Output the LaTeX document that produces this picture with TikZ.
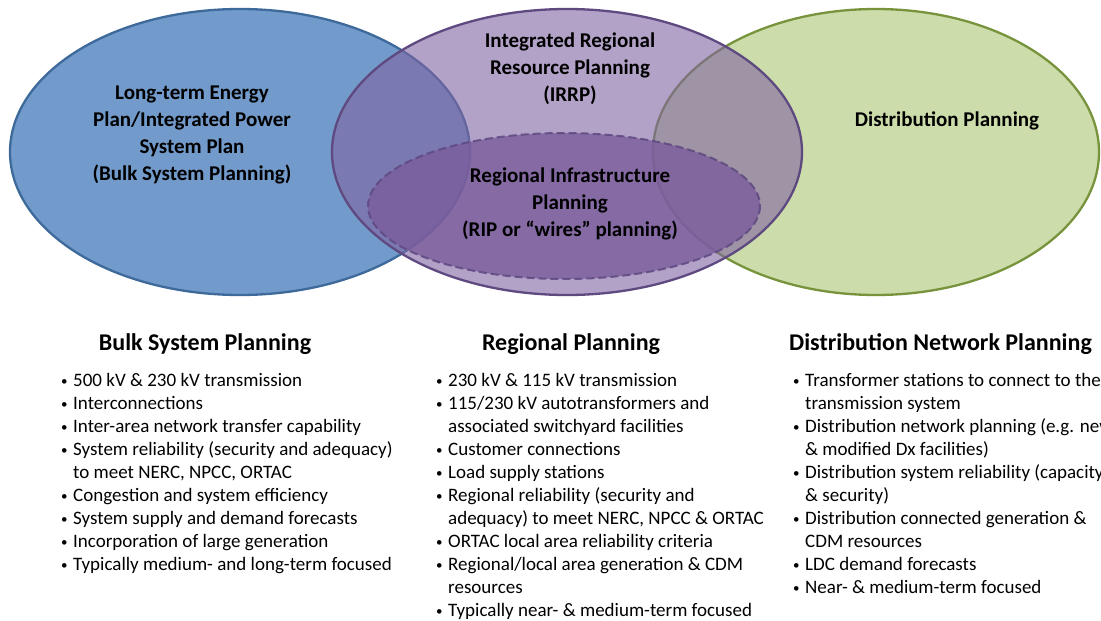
\documentclass[tikz,border=0pt]{standalone}
\usepackage{fontspec}
\setmainfont{Carlito}
\usetikzlibrary{positioning}
\definecolor{bulkblue}{HTML}{4F81BD}
\definecolor{bulkline}{HTML}{3D6A9B}
\definecolor{irrppurple}{HTML}{8064A2}
\definecolor{irrpline}{HTML}{5E4980}
\definecolor{ripfill}{HTML}{7A5C9C}
\definecolor{distgreen}{HTML}{9BBB59}
\definecolor{distline}{HTML}{77933C}
\newcommand{\bul}{\makebox[12pt][l]{\raisebox{0.5pt}{\fontsize{13}{13}\selectfont •}}}
\begin{document}
\begin{tikzpicture}[x=1pt,y=-1pt,
  venn/.style={line width=2.3pt},
  vennlabel/.style={font=\fontsize{21}{27}\selectfont\bfseries,align=center,inner sep=0pt},
  head/.style={font=\fontsize{24}{29}\selectfont\bfseries,inner sep=0pt,anchor=base},
  items/.style={font=\fontsize{19}{23}\selectfont,inner sep=0pt,anchor=base west}]
  \clip (0,0) rectangle (1101,621);
  \fill[white] (0,0) rectangle (1101,621);
  \draw[venn,draw=bulkline,fill=bulkblue,fill opacity=0.8] (240,152) ellipse [x radius=230,y radius=143];
  \draw[venn,draw=distline,fill=distgreen,fill opacity=0.5] (876,152) ellipse [x radius=223,y radius=143];
  \draw[venn,draw=irrpline,fill=irrppurple,fill opacity=0.6] (567,152) ellipse [x radius=235,y radius=143];
  \draw[line width=2pt,draw=irrpline,draw opacity=0.85,dash pattern=on 8pt off 4pt,
    fill=ripfill,fill opacity=0.8] (564,206) ellipse [x radius=196,y radius=73];
  \node[vennlabel] (bulk) at (192,135) {Long-term Energy\\Plan/Integrated Power\\System Plan\\(Bulk System Planning)};
  \node[vennlabel] (irrp) at (570,69) {Integrated Regional\\Resource Planning\\(IRRP)};
  \node[vennlabel] (rip) at (570,204) {Regional Infrastructure\\Planning\\(RIP or “wires” planning)};
  \node[vennlabel] (dist) at (947,121) {Distribution Planning};
  \node[head] (bulkhead) at (205,350) {Bulk System Planning};
  \node[head] (reghead) at (571,350) {Regional Planning};
  \node[head,anchor=base west] (disthead) at (789,350) {Distribution Network Planning};
  \node[items] (bulkitems) at (61,386) {\begin{tabular}[t]{@{}l@{}l@{}}
    \bul & 500 kV \& 230 kV transmission\\
    \bul & Interconnections\\
    \bul & Inter-area network transfer capability\\
    \bul & System reliability (security and adequacy)\\
         & to meet NERC, NPCC, ORTAC\\
    \bul & Congestion and system efficiency\\
    \bul & System supply and demand forecasts\\
    \bul & Incorporation of large generation\\
    \bul & Typically medium- and long-term focused
  \end{tabular}};
  \node[items] (regitems) at (436,386) {\begin{tabular}[t]{@{}l@{}l@{}}
    \bul & 230 kV \& 115 kV transmission\\
    \bul & 115/230 kV autotransformers and\\
         & associated switchyard facilities\\
    \bul & Customer connections\\
    \bul & Load supply stations\\
    \bul & Regional reliability (security and\\
         & adequacy) to meet NERC, NPCC \& ORTAC\\
    \bul & ORTAC local area reliability criteria\\
    \bul & Regional/local area generation \& CDM\\
         & resources\\
    \bul & Typically near- \& medium-term focused
  \end{tabular}};
  \node[items] (distitems) at (793,386) {\begin{tabular}[t]{@{}l@{}l@{}}
    \bul & Transformer stations to connect to the\\
         & transmission system\\
    \bul & Distribution network planning (e.g. new\\
         & \& modified Dx facilities)\\
    \bul & Distribution system reliability (capacity\\
         & \& security)\\
    \bul & Distribution connected generation \&\\
         & CDM resources\\
    \bul & LDC demand forecasts\\
    \bul & Near- \& medium-term focused
  \end{tabular}};
\end{tikzpicture}
\end{document}
